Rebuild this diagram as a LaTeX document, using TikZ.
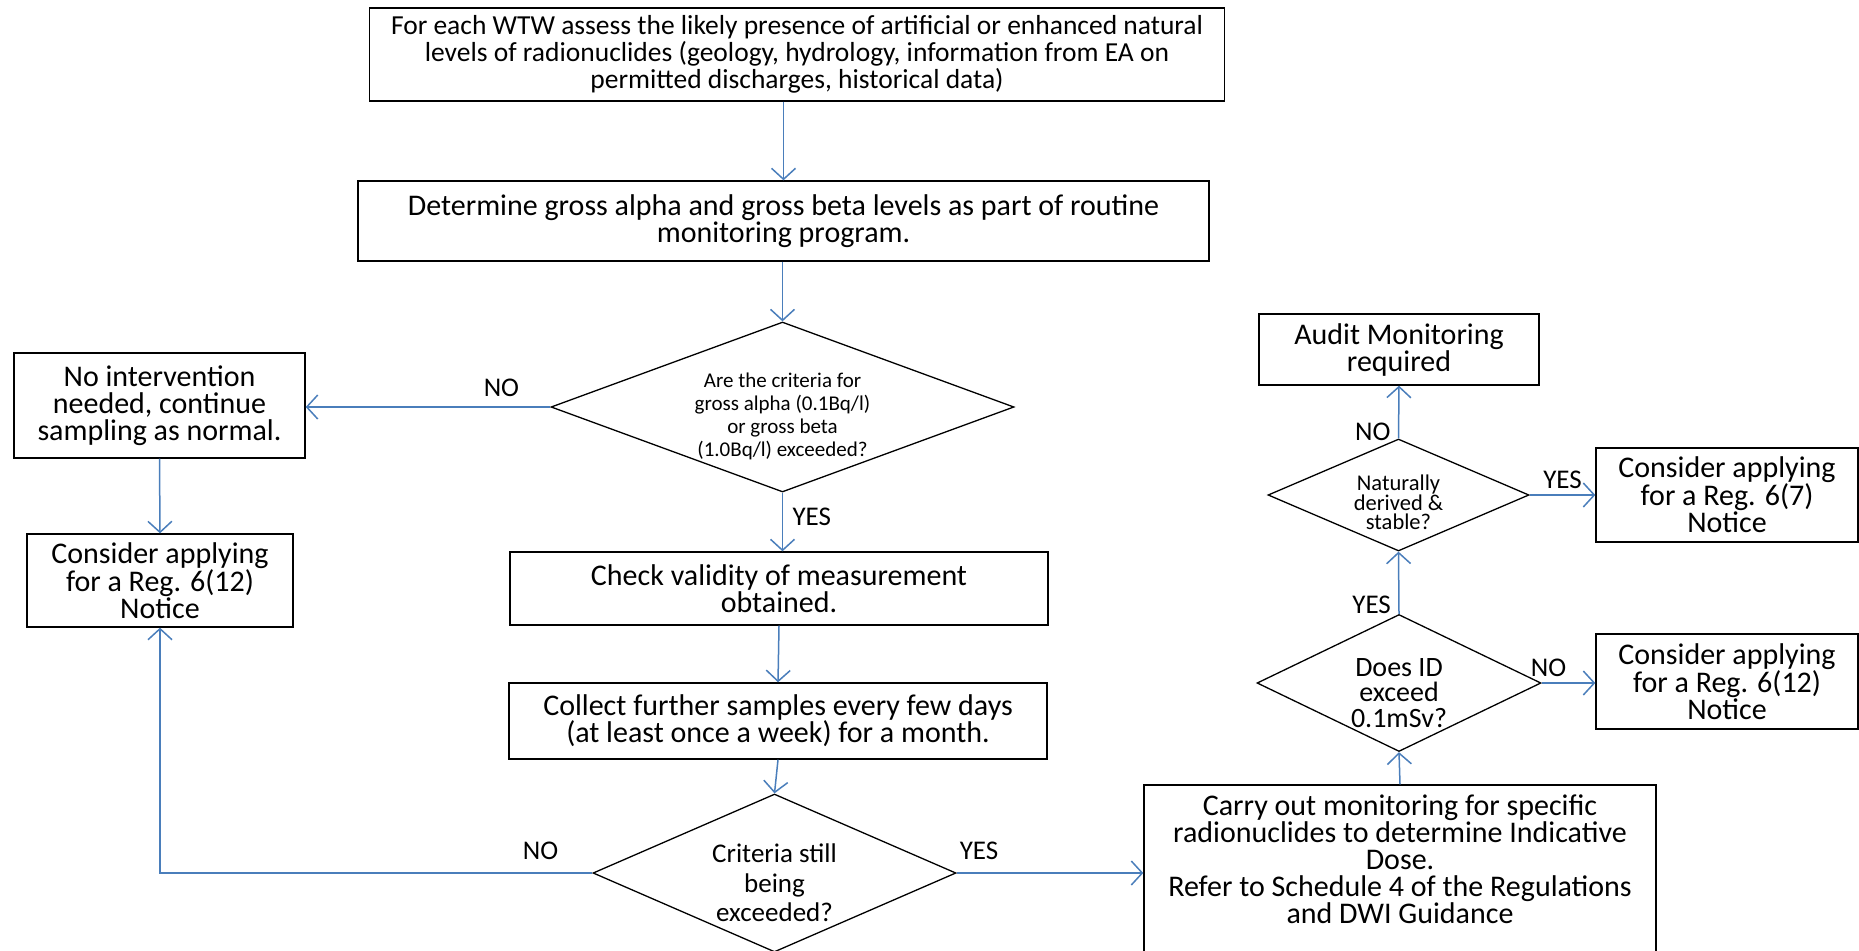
\documentclass[tikz,border=0pt]{standalone}
\usepackage{fontspec}
\setmainfont{Carlito}
\usetikzlibrary{shapes.geometric,arrows.meta,positioning,calc}
\definecolor{flowblue}{RGB}{74,126,187}

\begin{document}
\begin{tikzpicture}[x=1pt, y=-1pt,
    box/.style={rectangle, draw, line width=1.4pt, align=center, inner sep=0pt, font=\fontsize{30}{27}\selectfont},
    ask/.style={diamond, draw, line width=1.3pt, inner sep=0pt},
    asktext/.style={align=center, inner sep=0pt},
    flow/.style={-{Straight Barb[length=11pt, width=24pt, line width=1.5pt]}, draw=flowblue, line width=1.5pt},
    lbl/.style={font=\fontsize{27}{27}\selectfont, text=black}]

    \useasboundingbox (0,0) rectangle (1859,950);

    % main column
    \node[box, minimum width=855pt, minimum height=93pt, font=\fontsize{27.5}{27}\selectfont] (assess) at (797,54.5)
        {For each WTW assess the likely presence of artificial or enhanced natural\\
         levels of radionuclides (geology, hydrology, information from EA on\\
         permitted discharges, historical data)};
    \node[box, minimum width=851pt, minimum height=80pt] (gross) at (783.5,221)
        {Determine gross alpha and gross beta levels as part of routine\\ monitoring program.};
    \node[ask, minimum width=463pt, minimum height=170pt,
        label={[asktext, font=\fontsize{21}{23}\selectfont, yshift=-9pt]center:{Are the criteria for\\ gross alpha (0.1Bq/l)\\ or gross beta\\ (1.0Bq/l) exceeded?}}]
        (crit) at (782.5,407) {};
    \node[box, minimum width=538pt, minimum height=73pt] (valid) at (779,588.5)
        {Check validity of measurement\\ obtained.};
    \node[box, minimum width=538pt, minimum height=76pt] (collect) at (778,721)
        {Collect further samples every few days\\ (at least once a week) for a month.};
    \node[ask, minimum width=363pt, minimum height=158pt,
        label={[asktext, font=\fontsize{27}{29.5}\selectfont, yshift=-10pt]center:{Criteria still\\ being\\ exceeded?}}]
        (still) at (774.5,873) {};

    % left column
    \node[box, minimum width=291pt, minimum height=105pt] (nointv) at (159.5,405.5)
        {No intervention\\ needed, continue\\ sampling as normal.};
    \node[box, minimum width=266pt, minimum height=93pt] (regleft) at (160,580.5)
        {Consider applying\\ for a Reg. 6(12)\\ Notice};

    % right column
    \node[box, minimum width=512pt, minimum height=175pt] (carry) at (1400,872.5)
        {Carry out monitoring for specific\\ radionuclides to determine Indicative\\ Dose.\\
         Refer to Schedule 4 of the Regulations\\ and DWI Guidance\\ \mbox{}};
    \node[ask, minimum width=284pt, minimum height=137pt,
        label={[asktext, font=\fontsize{28}{25.5}\selectfont, yshift=-10pt]center:{Does ID\\ exceed\\ 0.1mSv?}}]
        (dose) at (1399,683) {};
    \node[ask, minimum width=261pt, minimum height=112pt,
        label={[asktext, font=\fontsize{22.5}{19.6}\selectfont, yshift=-7.5pt]center:{Naturally\\ derived \&\\ stable?}}]
        (natural) at (1398.5,495) {};
    \node[box, minimum width=280pt, minimum height=71pt] (audit) at (1399,349.5)
        {Audit Monitoring\\ required};
    \node[box, minimum width=262pt, minimum height=94pt] (regseven) at (1727,495)
        {Consider applying\\ for a Reg. 6(7)\\ Notice};
    \node[box, minimum width=262pt, minimum height=95pt] (regright) at (1727,681.5)
        {Consider applying\\ for a Reg. 6(12)\\ Notice};

    % connectors
    \draw[flow] (gross.north |- assess.south) -- (gross.north);
    \draw[flow] (gross.south -| crit.north) -- (crit.north);
    \draw[flow] (crit.west) -- node[lbl, above=6pt, pos=0.2] {NO} (crit.west -| nointv.east);
    \draw[flow] (nointv.south) -- (regleft.north);
    \draw[flow] (crit.south) -- node[lbl, right=6pt, pos=0.42] {YES} (crit.south |- valid.north);
    \draw[flow] (valid.south) -- (collect.north);
    \draw[flow] (collect.south) -- (still.north);
    \draw[flow] (still.west) -| node[lbl, above=9pt, pos=0.06] {NO} (regleft.south);
    \draw[flow] (still.east) -- node[lbl, above=9pt, pos=0.12] {YES} (still.east -| carry.west);
    \draw[flow] (carry.north) -- (dose.south);
    \draw[flow] (dose.north) -- node[lbl, left=4pt, pos=0.15] {YES} (natural.south);
    \draw[flow] (dose.east) -- node[lbl, above=2pt, pos=0.13] {NO} (dose.east -| regright.west);
    \draw[flow] (natural.east) -- node[lbl, above=2pt, pos=0.5] {YES} (regseven.west);
    \draw[flow] (natural.north) -- node[lbl, left=4pt, pos=0.12] {NO} (audit.south);
\end{tikzpicture}
\end{document}
